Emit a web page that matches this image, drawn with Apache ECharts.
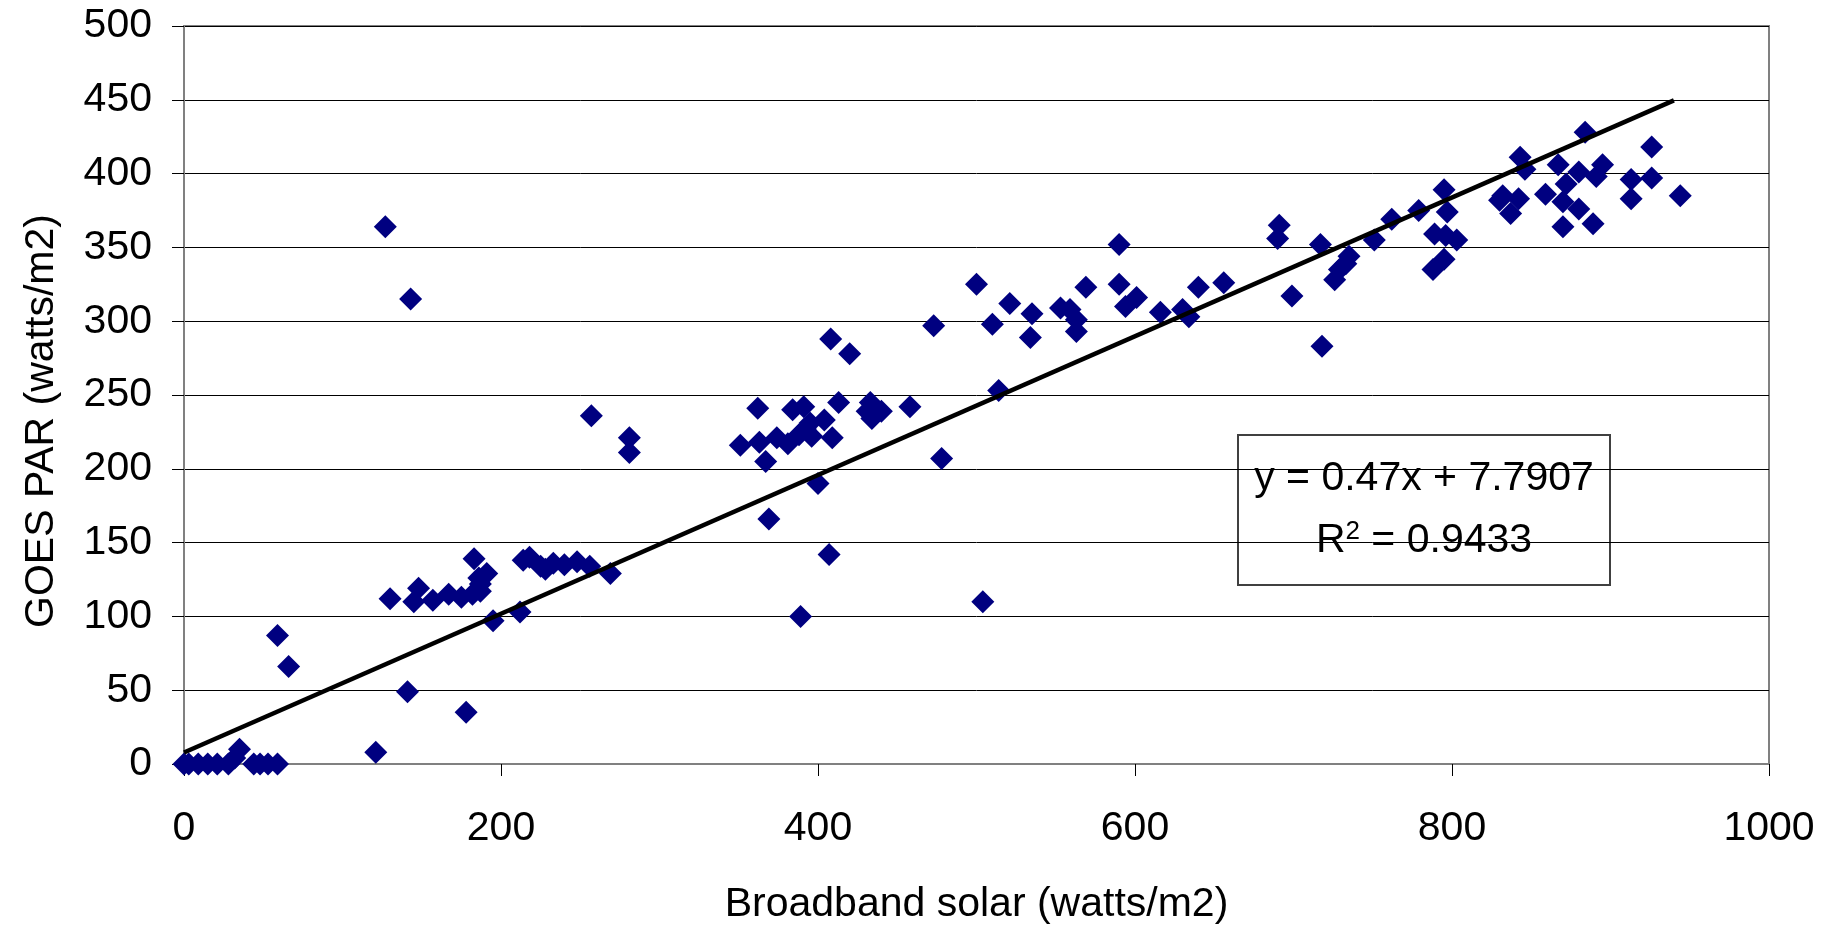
<!DOCTYPE html>
<html>
<head>
	<meta charset="utf-8" />
	<title>GOES PAR vs Broadband solar</title>
	<script type="text/javascript" src="https://cdn.jsdelivr.net/npm/echarts@6/dist/echarts.min.js"></script>
	<style>
		html, body {margin:0;padding:0;height:100%;background:#fff;}
		#chart {width:1823px;height:930px;}
	</style>
</head>
<body>
	<div id="chart"></div>

	<script>
		// broadband solar (x) / GOES PAR (y)
		var solar = [
			0, 3, 9, 15, 21, 28, 32, 35, 44, 48, 53, 59,
			59, 66, 121, 141, 178, 195, 212,
			130, 145, 148, 157, 167, 175, 182, 187, 187, 191, 183, 186,
			214, 218, 225, 228, 233, 240, 248, 256, 269,
			127, 143, 257, 281, 281,
			351, 362, 363, 367, 374, 381, 384, 391, 388, 392, 395, 396, 404, 409, 413,
			433, 431, 434, 440, 458, 478, 400, 369, 407, 389, 408, 420,
			473, 500, 521, 510, 535, 534, 514, 504,
			569, 553, 559, 563, 563, 590, 590, 594, 601, 616, 630, 634, 640, 656,
			691, 690, 699, 717, 718, 735, 733, 729, 726, 751, 762, 779,
			795, 789, 796, 788, 795, 797, 803,
			830, 832, 837, 842, 843, 846, 859, 867, 870, 872, 880, 880, 870, 889,
			884, 891, 895, 913, 913, 926, 926, 944
		];
		var par = [
			0, 0, 0, 0, 0, 0, 4, 10, 0, 0, 0, 0,
			87, 66, 8, 49, 35, 97, 103,
			112, 110, 119, 111, 115, 113, 115, 117, 122, 129, 139, 126,
			138, 140, 134, 132, 136, 135, 137, 134, 129,
			364, 315, 236, 221, 211,
			216, 241, 218, 205, 221, 217, 240, 242, 223, 227, 231, 222, 233, 221, 245,
			245, 239, 234, 239, 242, 207, 190, 166, 142, 100, 288, 278,
			297, 325, 312, 298, 305, 289, 253, 110,
			323, 309, 308, 301, 293, 352, 325, 310, 316, 306, 308, 303, 323, 326,
			365, 356, 317, 352, 283, 344, 339, 335, 328, 355, 369, 375,
			389, 359, 358, 335, 342, 374, 355,
			382, 385, 373, 383, 411, 403, 386, 406, 381, 393, 401, 376, 364, 366,
			428, 398, 406, 396, 383, 418, 397, 385
		];

		// linear trend end points
		var trendX = [0, 940];
		var trendY = [7.8, 449.6];

		var xTicks = [0, 200, 400, 600, 800, 1000];
		var yTicks = [0, 50, 100, 150, 200, 250, 300, 350, 400, 450, 500];

		var eqText = 'y = 0.47x + 7.7907';
		var r2Text = '0.9433';

		var points = solar.map((x, i) => [x, par[i]]);
		var trend = trendX.map((x, i) => [x, trendY[i]]);

		var FONT = 'Liberation Sans';

		var chart = echarts.init(document.getElementById('chart'));

		var option = {
			backgroundColor: '#fff',
			animation: false,
			textStyle: {fontFamily: FONT},
			grid: {
				left: 184, right: 54, top: 26, bottom: 166,
				show: true, borderColor: '#808080', borderWidth: 2
			},
			xAxis: {
				type: 'value',
				min: xTicks[0], max: xTicks[xTicks.length - 1], interval: 200,
				name: 'Broadband solar (watts/m2)',
				nameLocation: 'middle', nameGap: 120,
				nameTextStyle: {fontSize: 41, color: '#000', fontFamily: FONT},
				axisLine: {show: true, lineStyle: {color: '#808080', width: 2}},
				axisTick: {show: true, length: 12, lineStyle: {color: '#000'}},
				axisLabel: {fontSize: 41, color: '#000', margin: 44, fontFamily: FONT, formatter: v => String(v)},
				splitLine: {show: false}
			},
			yAxis: {
				type: 'value',
				min: yTicks[0], max: yTicks[yTicks.length - 1], interval: 50,
				name: 'GOES PAR (watts/m2)',
				nameLocation: 'middle', nameGap: 122,
				nameTextStyle: {fontSize: 41, color: '#000', fontFamily: FONT, padding: [0, 52, 0, 0]},
				axisLine: {show: true, lineStyle: {color: '#808080', width: 2}},
				axisTick: {show: true, length: 12, lineStyle: {color: '#000'}},
				axisLabel: {fontSize: 41, color: '#000', margin: 32, fontFamily: FONT, formatter: v => String(v)},
				splitLine: {show: true, lineStyle: {color: '#000', width: 1}}
			},
			series: [
				{
					type: 'scatter',
					data: points,
					symbol: 'diamond',
					symbolSize: 23,
					itemStyle: {color: '#000080', opacity: 1},
					z: 2
				},
				{
					type: 'line',
					data: trend,
					symbol: 'none',
					lineStyle: {color: '#000', width: 4.5},
					z: 3
				}
			],
			graphic: [
				{
					type: 'group',
					left: 1237, top: 434,
					z: 10,
					children: [
						{
							type: 'rect',
							shape: {x: 0, y: 0, width: 372, height: 150},
							style: {fill: '#fff', stroke: '#404040', lineWidth: 2}
						},
						{
							type: 'text',
							x: 186, y: 44,
							style: {
								text: eqText, font: '41px "Liberation Sans"',
								fill: '#000', align: 'center', verticalAlign: 'middle'
							}
						},
						{
							type: 'text',
							x: 186, y: 106,
							style: {
								text: 'R{sup|2} = ' + r2Text,
								font: '41px "Liberation Sans"',
								fill: '#000', align: 'center', verticalAlign: 'middle',
								rich: {
									sup: {fontSize: 26, verticalAlign: 'top', padding: [0, 0, 18, 0], fontFamily: FONT}
								}
							}
						}
					]
				}
			]
		};

		chart.setOption(option);
		window.addEventListener('resize', chart.resize);
	</script>
</body>
</html>
